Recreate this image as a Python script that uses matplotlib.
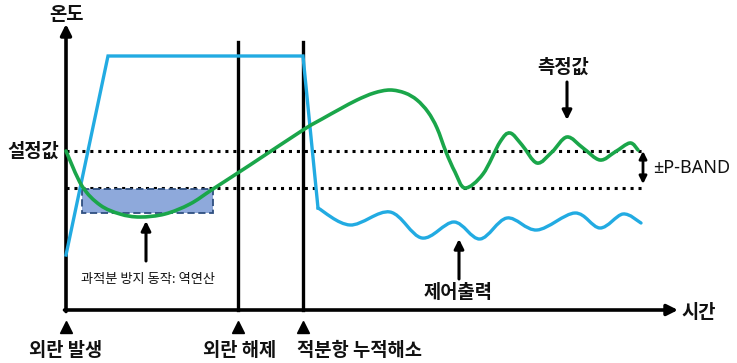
import numpy as np
import matplotlib.pyplot as plt
from matplotlib.path import Path
from matplotlib.patches import PathPatch, Rectangle

plt.rcParams['font.family'] = ['Noto Sans CJK KR', 'DejaVu Sans']

# schematic coordinates (x = time, y = screen-down position)
axis_x0, axis_y0 = 66, 310
event_x = [66, 238, 303]
event_labels = ['외란 발생', '외란 해제', '적분항 누적해소']
setpoint_y = 151
band_low_y = 188

# control output (blue): ramp / saturation part, then oscillation
out_ramp_x = [66, 108, 303, 318]
out_ramp_y = [255, 56, 56, 208]
out_wave_x = [318, 350, 390, 422, 454, 480, 507, 537, 575, 600, 623, 641]
out_wave_y = [208, 225, 212, 238, 222, 239, 218, 230, 213, 228, 214, 223]

# measured value (green)
pv_x = [66, 82, 100, 120, 140, 165, 190, 213, 250, 303, 322, 340,
        357, 374, 390, 405, 417, 428, 437, 446, 455, 465, 483, 500,
        510, 522, 537, 552, 567, 583, 600, 615, 630, 638]
pv_y = [151, 186, 205, 214, 217, 214, 204, 189, 165, 130, 119, 109,
        100, 93, 90, 93, 100, 112, 128, 152, 172, 188, 174, 142,
        133, 145, 163, 152, 137, 148, 160, 152, 143, 150]

BLUE = '#22ABE2'
GREEN = '#1AA64A'


def smooth_path(xs, ys):
    pts = np.column_stack([xs, ys]).astype(float)
    verts = [pts[0]]
    codes = [Path.MOVETO]
    n = len(pts)
    for i in range(n - 1):
        p0 = pts[i - 1] if i > 0 else pts[i]
        p1, p2 = pts[i], pts[i + 1]
        p3 = pts[i + 2] if i + 2 < n else pts[i + 1]
        verts += [p1 + (p2 - p0) / 6, p2 - (p3 - p1) / 6, p2]
        codes += [Path.CURVE4] * 3
    return Path(verts, codes)


fig = plt.figure(figsize=(7.37, 3.63), dpi=100)
ax = fig.add_axes([0, 0, 1, 1])
ax.set_xlim(0, 737)
ax.set_ylim(363, 0)
ax.axis('off')

# P-band dotted lines
ax.plot([axis_x0, 645], [setpoint_y, setpoint_y], color='black', lw=2.2,
        linestyle=(0, (1, 1.6)))
ax.plot([axis_x0, 645], [band_low_y, band_low_y], color='black', lw=2.2,
        linestyle=(0, (1, 1.6)))

# anti-windup box
ax.add_patch(Rectangle((82, 189), 131, 24, facecolor='#8EA9DB',
                       edgecolor='#2F4F80', lw=1.3, linestyle=(0, (4, 2)),
                       zorder=2))

# event lines
for x in event_x[1:]:
    ax.plot([x, x], [42, axis_y0], color='black', lw=2.4, zorder=3)

# axes with arrows
ax.annotate('', xy=(axis_x0, 24), xytext=(axis_x0, axis_y0 + 1.5),
            arrowprops=dict(arrowstyle='-|>', lw=2.6, color='black',
                            mutation_scale=16, shrinkA=0, shrinkB=0), zorder=4)
ax.annotate('', xy=(678, axis_y0), xytext=(axis_x0 - 1.5, axis_y0),
            arrowprops=dict(arrowstyle='-|>', lw=2.6, color='black',
                            mutation_scale=16, shrinkA=0, shrinkB=0), zorder=4)

# curves
ax.plot(out_ramp_x, out_ramp_y, color=BLUE, lw=2.4, solid_joinstyle='miter',
        zorder=5)
ax.add_patch(PathPatch(smooth_path(out_wave_x, out_wave_y), fill=False,
                       edgecolor=BLUE, lw=2.4, capstyle='round', zorder=5))
ax.add_patch(PathPatch(smooth_path(pv_x, pv_y), fill=False,
                       edgecolor=GREEN, lw=2.6, capstyle='round', zorder=6))

# labels
bold = dict(fontsize=13.5, fontweight='bold', color='#111111')
ax.text(67, 14, '온도', ha='center', va='center', **bold)
ax.text(699, 312, '시간', ha='center', va='center', **bold)
ax.text(59, 151, '설정값', ha='right', va='center', **bold)
ax.text(563, 67, '측정값', ha='center', va='center', **bold)
ax.text(458, 293, '제어출력', ha='center', va='center', **bold)
ax.text(148, 279, '과적분 방지 동작: 역연산', ha='center', va='center',
        fontsize=9.5, color='#111111')
ax.text(653, 168, '±P-BAND', ha='left', va='center', fontsize=13,
        family=['Noto Sans', 'DejaVu Sans'], color='#111111')

arrow = dict(arrowstyle='-|>', lw=2.2, color='black', mutation_scale=14,
             shrinkA=0, shrinkB=0)
ax.annotate('', xy=(567, 120), xytext=(567, 82), arrowprops=arrow)
ax.annotate('', xy=(459, 239), xytext=(459, 279), arrowprops=arrow)
ax.annotate('', xy=(146, 221), xytext=(146, 261), arrowprops=arrow)
ax.annotate('', xy=(643, 184), xytext=(643, 151),
            arrowprops=dict(arrowstyle='<|-|>', lw=2.0, color='black',
                            mutation_scale=11, shrinkA=0, shrinkB=0))

# event markers
for x, lab in zip(event_x, event_labels):
    ax.plot(x, 327, marker='^', color='black', markersize=9, linestyle='none')
ax.text(66, 350, event_labels[0], ha='center', va='center', **bold)
ax.text(240, 350, event_labels[1], ha='center', va='center', **bold)
ax.text(297, 350, event_labels[2], ha='left', va='center', **bold)

fig.savefig('out.png', dpi=100)
